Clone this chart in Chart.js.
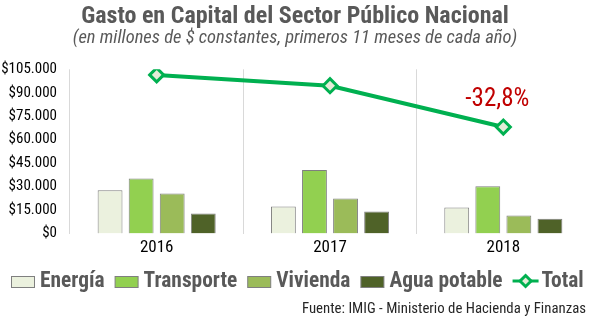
<!DOCTYPE html>
<html>
<head>
<meta charset="utf-8">
<script src="https://cdn.jsdelivr.net/npm/chart.js@4/dist/chart.umd.min.js"></script>
<style>
  html, body { margin: 0; padding: 0; background: #ffffff; }
  #wrap { position: relative; width: 590px; height: 325px; }
</style>
</head>
<body>
<div id="wrap"><canvas id="chart" width="590" height="325"></canvas></div>
<script>
// Gasto en capital por finalidad, millones de $ constantes
const years = ['2016', '2017', '2018'];
const energia = [27700, 17300, 16700];
const transporte = [35200, 40600, 30300];
const vivienda = [25700, 22500, 11500];
const aguaPotable = [12800, 14100, 9500];
const total = [101400, 94500, 68100];
const yTicks = [0, 15000, 30000, 45000, 60000, 75000, 90000, 105000];

const FONT = '"Roboto Condensed", "Liberation Sans Narrow", "Roboto", sans-serif';
const GREEN = '#00b050';
const DIAMOND_FILL = '#e4ecd8';

function fmtMoney(v) {
  return '$' + Math.round(v).toString().replace(/\B(?=(\d{3})+(?!\d))/g, '.');
}

const barStyle = { borderColor: '#7f7f7f', borderWidth: 1, categoryPercentage: 0.717, barPercentage: 0.8 };

// Percentage change of the total, written above the last point
const changeLabel = {
  id: 'changeLabel',
  afterDatasetsDraw(chart) {
    const meta = chart.getDatasetMeta(4);
    const last = meta.data[meta.data.length - 1];
    const pct = (total[total.length - 1] / total[0] - 1) * 100;
    const txt = pct.toFixed(1).replace('.', ',') + '%';
    const ctx = chart.ctx;
    ctx.save();
    ctx.font = '25px ' + FONT;
    ctx.fillStyle = '#c00000';
    ctx.textAlign = 'center';
    ctx.textBaseline = 'middle';
    ctx.fillText(txt, last.x - 6, last.y - 27);
    ctx.restore();
  }
};

// Single-row legend under the axis: boxes for the bars, line + diamond for the total
const rowLegend = {
  id: 'rowLegend',
  afterDraw(chart) {
    const ctx = chart.ctx;
    const datasets = chart.data.datasets;
    const baseline = 287;
    const midY = 282;
    ctx.save();
    ctx.font = 'bold 21.4px ' + FONT;
    const items = datasets.map(ds => {
      const isLine = ds.type === 'line';
      const sw = isLine ? 26 : 24;
      const gap = isLine ? 3 : 5;
      return { ds, isLine, sw, gap, tw: ctx.measureText(ds.label).width };
    });
    const spacing = 10;
    const width = items.reduce((s, it) => s + it.sw + it.gap + it.tw, 0) + spacing * (items.length - 1);
    let x = Math.round(297 - width / 2);
    items.forEach(it => {
      if (it.isLine) {
        ctx.strokeStyle = it.ds.borderColor;
        ctx.lineWidth = 3;
        ctx.beginPath(); ctx.moveTo(x, midY - 1); ctx.lineTo(x + it.sw, midY - 1); ctx.stroke();
        const cx = x + it.sw / 2, cy = midY - 1;
        ctx.fillStyle = it.ds.pointBackgroundColor;
        ctx.beginPath();
        ctx.moveTo(cx, cy - 5.5); ctx.lineTo(cx + 5.5, cy); ctx.lineTo(cx, cy + 5.5); ctx.lineTo(cx - 5.5, cy);
        ctx.closePath(); ctx.fill(); ctx.stroke();
      } else {
        ctx.fillStyle = it.ds.backgroundColor;
        ctx.fillRect(x + 0.5, midY - 5.5, it.sw - 1, 11);
        ctx.strokeStyle = it.ds.borderColor;
        ctx.lineWidth = 1;
        ctx.strokeRect(x + 0.5, midY - 5.5, it.sw - 1, 11);
      }
      x += it.sw + it.gap;
      ctx.fillStyle = '#595959';
      ctx.textAlign = 'left';
      ctx.textBaseline = 'alphabetic';
      ctx.fillText(it.ds.label, x, baseline);
      x += it.tw + spacing;
    });
    ctx.restore();
  }
};

const sourceNote = {
  id: 'sourceNote',
  afterDraw(chart) {
    const ctx = chart.ctx;
    ctx.save();
    ctx.font = '14.8px ' + FONT;
    ctx.fillStyle = '#262626';
    ctx.textAlign = 'right';
    ctx.textBaseline = 'alphabetic';
    ctx.fillText('Fuente: IMIG - Ministerio de Hacienda y Finanzas', 586, 313);
    ctx.restore();
  }
};

new Chart(document.getElementById('chart'), {
  data: {
    labels: years,
    datasets: [
      { type: 'bar', label: 'Energía', data: energia, backgroundColor: '#ebf1de', order: 2, ...barStyle },
      { type: 'bar', label: 'Transporte', data: transporte, backgroundColor: '#92d050', order: 2, ...barStyle },
      { type: 'bar', label: 'Vivienda', data: vivienda, backgroundColor: '#9bbb59', order: 2, ...barStyle },
      { type: 'bar', label: 'Agua potable', data: aguaPotable, backgroundColor: '#4f6228', order: 2, ...barStyle },
      { type: 'line', label: 'Total', data: total, borderColor: GREEN, borderWidth: 4,
        pointStyle: 'rectRot', pointRadius: 7, pointBorderWidth: 3,
        pointBackgroundColor: DIAMOND_FILL, pointBorderColor: GREEN, order: 1 }
    ]
  },
  options: {
    responsive: false,
    animation: false,
    layout: { autoPadding: false, padding: { left: 0, right: 0, top: 0, bottom: 63 } },
    plugins: {
      title: {
        display: true,
        text: 'Gasto en Capital del Sector Público Nacional',
        color: '#595959',
        font: { family: FONT, size: 24, weight: 'bold', lineHeight: 0.95 },
        padding: { top: 6, bottom: 0 }
      },
      subtitle: {
        display: true,
        text: '(en millones de $ constantes, primeros 11 meses de cada año)',
        color: '#595959',
        font: { family: FONT, size: 18.5, style: 'italic', lineHeight: 1 },
        padding: { top: 0, bottom: 22 }
      },
      legend: { display: false },
      tooltip: { enabled: false }
    },
    scales: {
      x: {
        afterFit(scale) { scale.paddingLeft = 0; scale.paddingRight = 0; },
        grid: { display: true, offset: true, color: '#d9d9d9', drawTicks: false },
        border: { display: false },
        ticks: { color: '#000000', font: { family: FONT, size: 17 }, padding: 4 }
      },
      y: {
        min: 0, max: 105000,
        afterBuildTicks(scale) { scale.ticks = yTicks.map(v => ({ value: v })); },
        afterFit(scale) { scale.width = 70; },
        grid: { display: false, drawTicks: false },
        border: { display: false },
        ticks: { autoSkip: false, color: '#000000', font: { family: FONT, size: 15 }, padding: 13, callback: v => fmtMoney(v) }
      }
    }
  },
  plugins: [changeLabel, rowLegend, sourceNote]
});
</script>
</body>
</html>
